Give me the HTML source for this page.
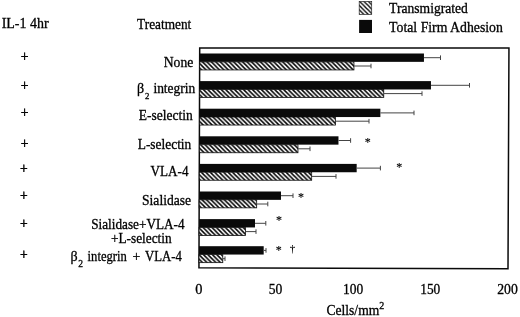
<!DOCTYPE html>
<html><head><meta charset="utf-8"><title>chart</title>
<style>
html,body{margin:0;padding:0;background:#fff;}
svg{display:block;}
text{font-family:"Liberation Serif","DejaVu Serif",serif;fill:#000;stroke:#000;stroke-width:0.3px;}
.pl{font-size:13.6px;stroke-width:0.5px;}
.as{font-size:12px;stroke-width:0.15px;}
.dg{font-size:11px;stroke-width:0.15px;}
</style></head><body>
<svg width="520" height="317" viewBox="0 0 520 317">
<defs>
<pattern id="hat" patternUnits="userSpaceOnUse" width="4.46" height="4.46" patternTransform="translate(140.6,0)">
<rect width="4.46" height="4.46" fill="#fff"/>
<path d="M-4.46,-4.46 L8.92,8.92 M0,-4.46 L8.92,4.46 M-4.46,0 L4.46,8.92" stroke="#000" stroke-width="1.5"/>
</pattern>
<pattern id="hat2" patternUnits="userSpaceOnUse" width="4.4" height="4.4" patternTransform="translate(358.2,0)">
<rect width="4.4" height="4.4" fill="#fff"/>
<path d="M-4.4,-4.4 L8.8,8.8 M0,-4.4 L8.8,4.4 M-4.4,0 L4.4,8.8" stroke="#000" stroke-width="1.35"/>
</pattern>
</defs>
<rect width="520" height="317" fill="#fff"/>

<path d="M199.7,48.05 L508.95,48.0 L508.0,268.85 L198.95,267.8 Z" fill="none" stroke="#0a0a0a" stroke-width="1.5" stroke-linejoin="miter"/>
<rect x="199.65409556313992" y="53.5" width="224.3" height="8.35" fill="#0a0a0a"/>
<rect x="199.65409556313992" y="61.9" width="154.3" height="8.05" fill="url(#hat)" stroke="#111" stroke-width="0.8"/>
<path d="M424,57.7 H440.5 M440.5,55.4 V60.0" stroke="#444" stroke-width="1" fill="none"/>
<path d="M354,66.0 H371 M371,63.7 V68.3" stroke="#444" stroke-width="1" fill="none"/>
<rect x="199.5598976109215" y="81.1" width="231.4" height="8.35" fill="#0a0a0a"/>
<rect x="199.5598976109215" y="89.4" width="184.2" height="8.05" fill="url(#hat)" stroke="#111" stroke-width="0.8"/>
<path d="M431,85.3 H469.5 M469.5,83.0 V87.6" stroke="#444" stroke-width="1" fill="none"/>
<path d="M383.8,93.6 H422 M422,91.3 V95.9" stroke="#444" stroke-width="1" fill="none"/>
<rect x="199.46569965870307" y="108.7" width="180.9" height="8.35" fill="#0a0a0a"/>
<rect x="199.46569965870307" y="117.0" width="136.0" height="8.05" fill="url(#hat)" stroke="#111" stroke-width="0.8"/>
<path d="M380.4,112.9 H414 M414,110.6 V115.2" stroke="#444" stroke-width="1" fill="none"/>
<path d="M335.5,121.2 H369 M369,118.9 V123.5" stroke="#444" stroke-width="1" fill="none"/>
<rect x="199.37150170648462" y="136.3" width="139.1" height="8.35" fill="#0a0a0a"/>
<rect x="199.37150170648462" y="144.7" width="98.6" height="8.05" fill="url(#hat)" stroke="#111" stroke-width="0.8"/>
<path d="M338.5,140.5 H350.6 M350.6,138.2 V142.8" stroke="#444" stroke-width="1" fill="none"/>
<path d="M298,148.8 H310 M310,146.5 V151.1" stroke="#444" stroke-width="1" fill="none"/>
<rect x="199.2773037542662" y="163.9" width="157.4" height="8.35" fill="#0a0a0a"/>
<rect x="199.2773037542662" y="172.2" width="112.4" height="8.05" fill="url(#hat)" stroke="#111" stroke-width="0.8"/>
<path d="M356.7,168.1 H380.4 M380.4,165.8 V170.4" stroke="#444" stroke-width="1" fill="none"/>
<path d="M311.7,176.4 H336 M336,174.1 V178.7" stroke="#444" stroke-width="1" fill="none"/>
<rect x="199.18310580204778" y="191.5" width="81.8" height="8.35" fill="#0a0a0a"/>
<rect x="199.18310580204778" y="199.8" width="57.5" height="8.05" fill="url(#hat)" stroke="#111" stroke-width="0.8"/>
<path d="M281,195.7 H293 M293,193.4 V198.0" stroke="#444" stroke-width="1" fill="none"/>
<path d="M256.7,204.0 H267.8 M267.8,201.7 V206.3" stroke="#444" stroke-width="1" fill="none"/>
<rect x="199.08890784982935" y="219.1" width="55.9" height="8.35" fill="#0a0a0a"/>
<rect x="199.08890784982935" y="227.5" width="46.5" height="8.05" fill="url(#hat)" stroke="#111" stroke-width="0.8"/>
<path d="M255.0,223.3 H265.8 M265.8,221.0 V225.6" stroke="#444" stroke-width="1" fill="none"/>
<path d="M245.6,231.6 H256 M256,229.3 V233.9" stroke="#444" stroke-width="1" fill="none"/>
<rect x="198.99641638225256" y="246.2" width="64.7" height="8.35" fill="#0a0a0a"/>
<rect x="198.99641638225256" y="254.6" width="23.8" height="8.05" fill="url(#hat)" stroke="#111" stroke-width="0.8"/>
<path d="M263.7,250.4 H266 M266,248.1 V252.7" stroke="#444" stroke-width="1" fill="none"/>
<path d="M222.8,258.7 H225 M225,256.4 V261.0" stroke="#444" stroke-width="1" fill="none"/>
<g font-size="14" style="filter:grayscale(1)">
<text x="1.70" y="28.0" textLength="46.90" lengthAdjust="spacingAndGlyphs">IL-1 4hr</text>
<text x="137.10" y="29.0" textLength="54.20" lengthAdjust="spacingAndGlyphs">Treatment</text>
<text x="163.70" y="66.8" textLength="29.60" lengthAdjust="spacingAndGlyphs">None</text>
<text x="153.40" y="92.8" textLength="41.90" lengthAdjust="spacingAndGlyphs">integrin</text>
<text x="138.70" y="120.2" textLength="54.00" lengthAdjust="spacingAndGlyphs">E-selectin</text>
<text x="137.70" y="148.6" textLength="53.60" lengthAdjust="spacingAndGlyphs">L-selectin</text>
<text x="150.60" y="175.8" textLength="37.90" lengthAdjust="spacingAndGlyphs">VLA-4</text>
<text x="142.00" y="204.5" textLength="49.10" lengthAdjust="spacingAndGlyphs">Sialidase</text>
<text x="91.20" y="229.0" textLength="93.40" lengthAdjust="spacingAndGlyphs">Sialidase+VLA-4</text>
<text x="110.90" y="242.7" textLength="60.80" lengthAdjust="spacingAndGlyphs">+L-selectin</text>
<text x="87.60" y="260.8" textLength="39.20" lengthAdjust="spacingAndGlyphs">integrin</text>
<text x="132.60" y="260.8" textLength="7.80" lengthAdjust="spacingAndGlyphs">+</text>
<text x="144.95" y="260.8" textLength="36.85" lengthAdjust="spacingAndGlyphs">VLA-4</text>
<text x="389.10" y="12.9" textLength="78.80" lengthAdjust="spacingAndGlyphs">Transmigrated</text>
<text x="389.10" y="31.6" textLength="113.80" lengthAdjust="spacingAndGlyphs">Total Firm Adhesion</text>
<text x="195.30" y="294.4" textLength="7.20" lengthAdjust="spacingAndGlyphs">0</text>
<text x="268.70" y="294.4" textLength="13.60" lengthAdjust="spacingAndGlyphs">50</text>
<text x="343.10" y="294.1" textLength="20.20" lengthAdjust="spacingAndGlyphs">100</text>
<text x="420.20" y="294.4" textLength="20.10" lengthAdjust="spacingAndGlyphs">150</text>
<text x="497.20" y="294.4" textLength="20.60" lengthAdjust="spacingAndGlyphs">200</text>
<text x="326.45" y="314.7" textLength="52.85" lengthAdjust="spacingAndGlyphs">Cells/mm</text>
<text x="137.1" y="92.8">β</text><text x="144.9" y="98.8" font-size="8.8">2</text>
<text x="70.5" y="260.8">β</text><text x="78.3" y="267.0" font-size="9.5">2</text>
<text x="379.3" y="309.2" font-size="10">2</text>
<text class="pl" x="20.75" y="60.85">+</text>
<text class="pl" x="20.75" y="90.15">+</text>
<text class="pl" x="20.75" y="117.15">+</text>
<text class="pl" x="20.75" y="147.75">+</text>
<text class="pl" x="19.95" y="172.55">+</text>
<text class="pl" x="19.95" y="199.55">+</text>
<text class="pl" x="19.95" y="228.15">+</text>
<text class="pl" x="19.95" y="259.05">+</text>
<text class="as" x="364.8" y="146.1">*</text>
<text class="as" x="396.2" y="170.8">*</text>
<text class="as" x="298.0" y="200.8">*</text>
<text class="as" x="276.0" y="223.8">*</text>
<text class="as" x="275.7" y="254.4">*</text>
<text class="dg" x="289.7" y="251.9">†</text>
</g>
<rect x="359.2" y="1.5" width="12.5" height="12.9" fill="url(#hat2)" stroke="#222" stroke-width="0.7"/>
<rect x="359.1" y="19.9" width="12.9" height="13.1" fill="#0a0a0a"/>
</svg></body></html>
